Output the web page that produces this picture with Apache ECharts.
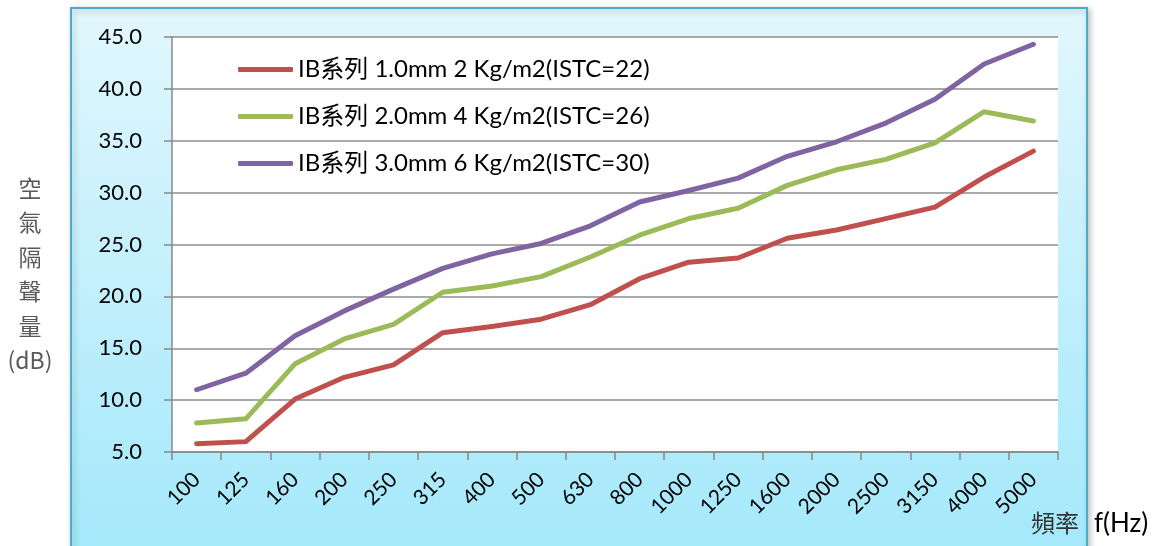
<!DOCTYPE html>
<html><head><meta charset="utf-8">
<script src="https://cdn.jsdelivr.net/npm/echarts@6/dist/echarts.min.js"></script>
<style>html,body{margin:0;padding:0;background:#fff}#c{width:1154px;height:546px}</style>
</head><body><div id="c"></div>
<script>
const categories = ['100','125','160','200','250','315','400','500','630','800','1000','1250','1600','2000','2500','3150','4000','5000'];
const seriesNames = ['IB系列 1.0mm 2 Kg/m2(ISTC=22)','IB系列 2.0mm 4 Kg/m2(ISTC=26)','IB系列 3.0mm 6 Kg/m2(ISTC=30)'];
const ib10 = [5.8,6.0,10.1,12.2,13.4,16.5,17.1,17.8,19.2,21.7,23.3,23.7,25.6,26.4,27.5,28.6,31.5,34.0];
const ib20 = [7.8,8.2,13.5,15.9,17.3,20.4,21.0,21.9,23.8,25.9,27.5,28.5,30.7,32.2,33.2,34.8,37.8,36.9];
const ib30 = [11.0,12.6,16.2,18.6,20.7,22.7,24.1,25.1,26.8,29.1,30.2,31.4,33.5,34.9,36.7,39.0,42.4,44.3];
const yTicks = {min: 5, max: 45, interval: 5};
const yName = '空\n氣\n隔\n聲\n量\n(dB)';
const xNameCJK = '頻率';
const xNameUnit = 'f(Hz)';
const colors = ['#C0504D','#9BBB59','#8064A2'];

const font = 'Lato, "Noto Sans CJK TC", sans-serif';
const chart = echarts.init(document.getElementById('c'));
const mk = (name, data, i) => ({
  name, type: 'line', data, symbol: 'none', z: 5,
  lineStyle: {color: colors[i], width: 5, cap: 'round', join: 'round'},
  itemStyle: {color: colors[i]}
});
chart.setOption({
  animation: false,
  graphic: [
    {type: 'rect', z: -10, shape: {x: 71, y: 8, width: 1016, height: 560},
     style: {fill: new echarts.graphic.LinearGradient(0,0,0,1,[{offset:0,color:'#e2f7fd'},{offset:1,color:'#a2e8fb'}]),
             stroke: '#4BACC6', lineWidth: 2, shadowBlur: 6, shadowColor: 'rgba(0,0,0,0.25)', shadowOffsetX: 2, shadowOffsetY: 2}},
    {type: 'text', z: 10, x: 30, y: 171,
     style: {text: yName, fill: '#595959', fontSize: 23, fontFamily: 'Noto Sans CJK TC', lineHeight: 34.5, align: 'center', verticalAlign: 'top'}},
    {type: 'text', z: 10, x: 1031, y: 511,
     style: {text: xNameCJK, fill: '#333', fontSize: 24, fontFamily: 'Noto Sans CJK TC', verticalAlign: 'top', letterSpacing: 4}},
    {type: 'text', z: 10, x: 1094, y: 511,
     style: {text: xNameUnit, fill: '#000', fontSize: 26, fontFamily: font, verticalAlign: 'top'}}
  ],
  grid: {left: 172, right: 96, top: 37, bottom: 94, show: true, backgroundColor: '#ffffff', borderWidth: 0},
  legend: {
    data: seriesNames, orient: 'vertical', left: 233, top: 51, itemGap: 20,
    itemWidth: 55, itemHeight: 5, z: 6, icon: 'roundRect',
    textStyle: {fontFamily: font, fontSize: 24, color: '#000', lineHeight: 27}
  },
  xAxis: {
    type: 'category', data: categories, boundaryGap: true,
    axisLine: {lineStyle: {color: '#888', width: 1.5}},
    axisTick: {show: true, length: 8, lineStyle: {color: '#888', width: 1.5}},
    axisLabel: {rotate: 45, margin: 24, fontFamily: font, fontSize: 21, color: '#000', interval: 0}
  },
  yAxis: {
    type: 'value', min: yTicks.min, max: yTicks.max, interval: yTicks.interval,
    axisLine: {show: true, lineStyle: {color: '#888', width: 1.5}},
    axisTick: {show: true, length: 8, lineStyle: {color: '#888', width: 1.5}},
    splitLine: {lineStyle: {color: '#8c8c8c', width: 1.5}},
    axisLabel: {margin: 30, fontFamily: font, fontSize: 22, color: '#000', formatter: v => v.toFixed(1)}
  },
  series: [mk(seriesNames[0], ib10, 0), mk(seriesNames[1], ib20, 1), mk(seriesNames[2], ib30, 2)]
});
</script></body></html>
